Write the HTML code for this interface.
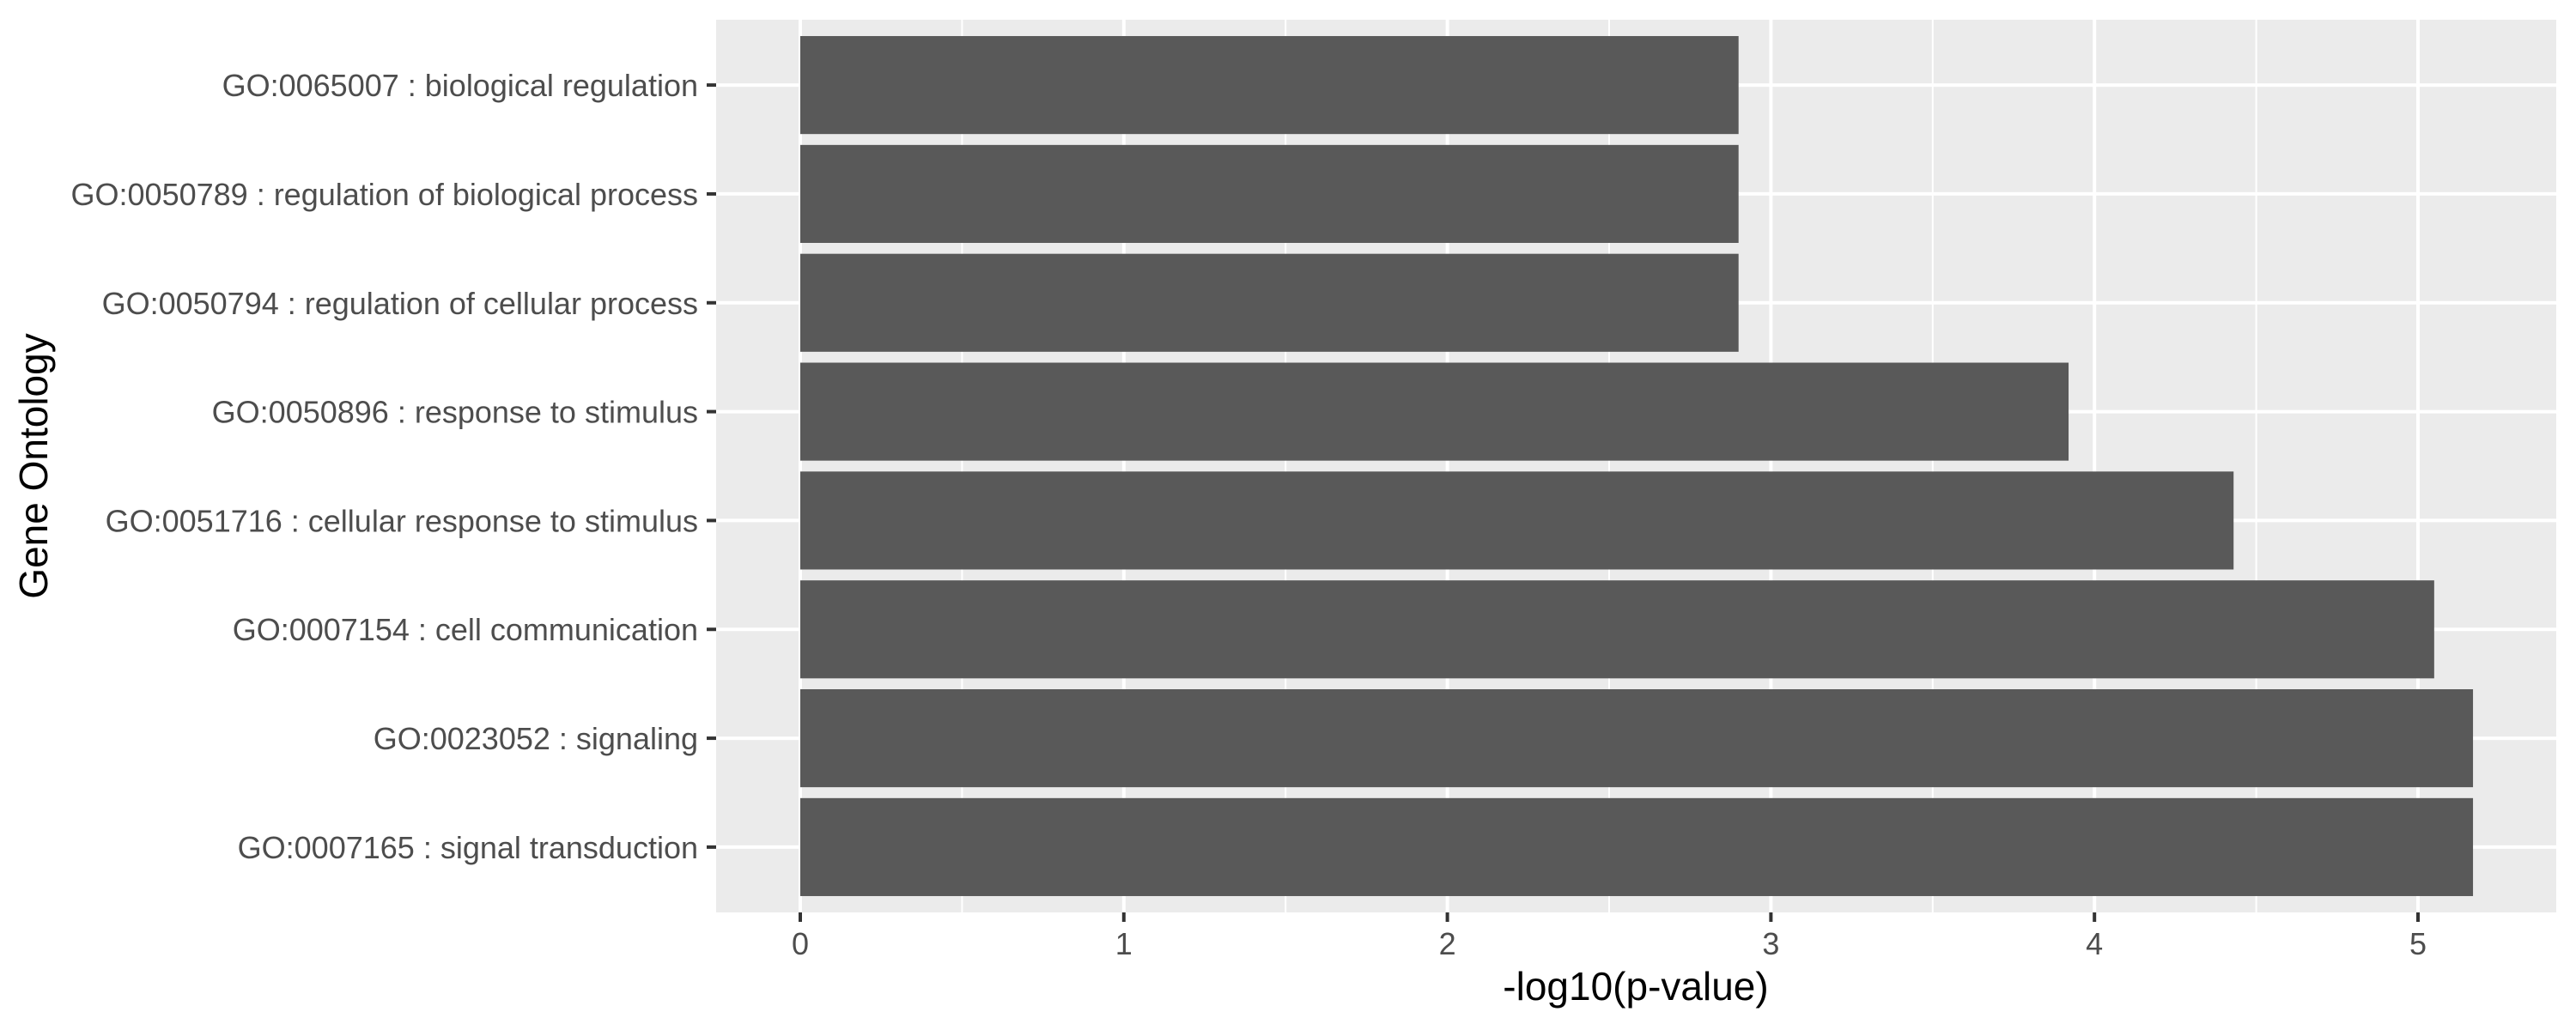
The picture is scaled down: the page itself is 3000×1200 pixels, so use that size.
<!DOCTYPE html>
<html><head><meta charset="utf-8"><style>html,body{margin:0;padding:0;background:#fff}svg{display:block}text{font-family:"Liberation Sans",Arial,sans-serif}</style></head>
<body>
<svg id="chart" width="3000" height="1200" viewBox="0 0 3000 1200" xmlns="http://www.w3.org/2000/svg">
<rect x="834" y="23" width="2143" height="1040" fill="#EBEBEB"/>
<g id="grid"></g><g id="bars"></g><g id="axes"></g>
<text x="1905" y="1165" font-size="46" text-anchor="middle" fill="#000">-log10(p-value)</text>
<text transform="translate(55,543) rotate(-90)" font-size="46" text-anchor="middle" fill="#000">Gene Ontology</text>
</svg>
<script>
const categories = ["GO:0065007 : biological regulation","GO:0050789 : regulation of biological process","GO:0050794 : regulation of cellular process","GO:0050896 : response to stimulus","GO:0051716 : cellular response to stimulus","GO:0007154 : cell communication","GO:0023052 : signaling","GO:0007165 : signal transduction"];
const values = [2.90, 2.90, 2.90, 3.92, 4.43, 5.05, 5.17, 5.17];
const xTicks = [0,1,2,3,4,5];
const xTickLabels = ["0","1","2","3","4","5"];
const NS="http://www.w3.org/2000/svg";
const L=834,R=2977,T=23,B=1063;
const x0=932, perUnit=(2816-932)/5;
function xs(v){return x0+v*perUnit;}
const n=categories.length;
function yc(i){return T+(B-T)*((i+0.6)/(n+0.2));}
const band=(B-T)/(n+0.2);
function mk(tag,attrs,parent){const e=document.createElementNS(NS,tag);for(const k in attrs)e.setAttribute(k,attrs[k]);parent.appendChild(e);return e;}
const grid=document.getElementById('grid'),bars=document.getElementById('bars'),axes=document.getElementById('axes');
for(let t=-0.5;t<=5.5;t+=1){const X=xs(t);if(X<L||X>R)continue;const e=mk('line',{x1:X,x2:X,y1:T,y2:B,stroke:'#fff','stroke-width':2},grid);

}
xTicks.forEach((t,i)=>{const X=xs(t);const g=mk('line',{x1:X,x2:X,y1:T,y2:B,stroke:'#fff','stroke-width':4},grid);


const tk=mk('line',{x1:X,x2:X,y1:B,y2:B+11,stroke:'#333','stroke-width':4},axes);


const tx=mk('text',{x:X,y:1112,'font-size':36,'text-anchor':'middle',fill:'#4D4D4D'},axes);tx.textContent=xTickLabels[i];

});
categories.forEach((c,i)=>{const Y=yc(i);const g=mk('line',{x1:L,x2:R,y1:Y,y2:Y,stroke:'#fff','stroke-width':4},grid);


const b=mk('rect',{x:xs(0),y:Y-band*0.45,width:xs(values[i])-xs(0),height:band*0.9,fill:'#595959'},bars);


const tk=mk('line',{x1:L-11,x2:L,y1:Y,y2:Y,stroke:'#333','stroke-width':4},axes);


const tx=mk('text',{x:813,y:Y+13,'font-size':36,'text-anchor':'end',fill:'#4D4D4D'},axes);tx.textContent=c;

});
</script>
</body></html>
